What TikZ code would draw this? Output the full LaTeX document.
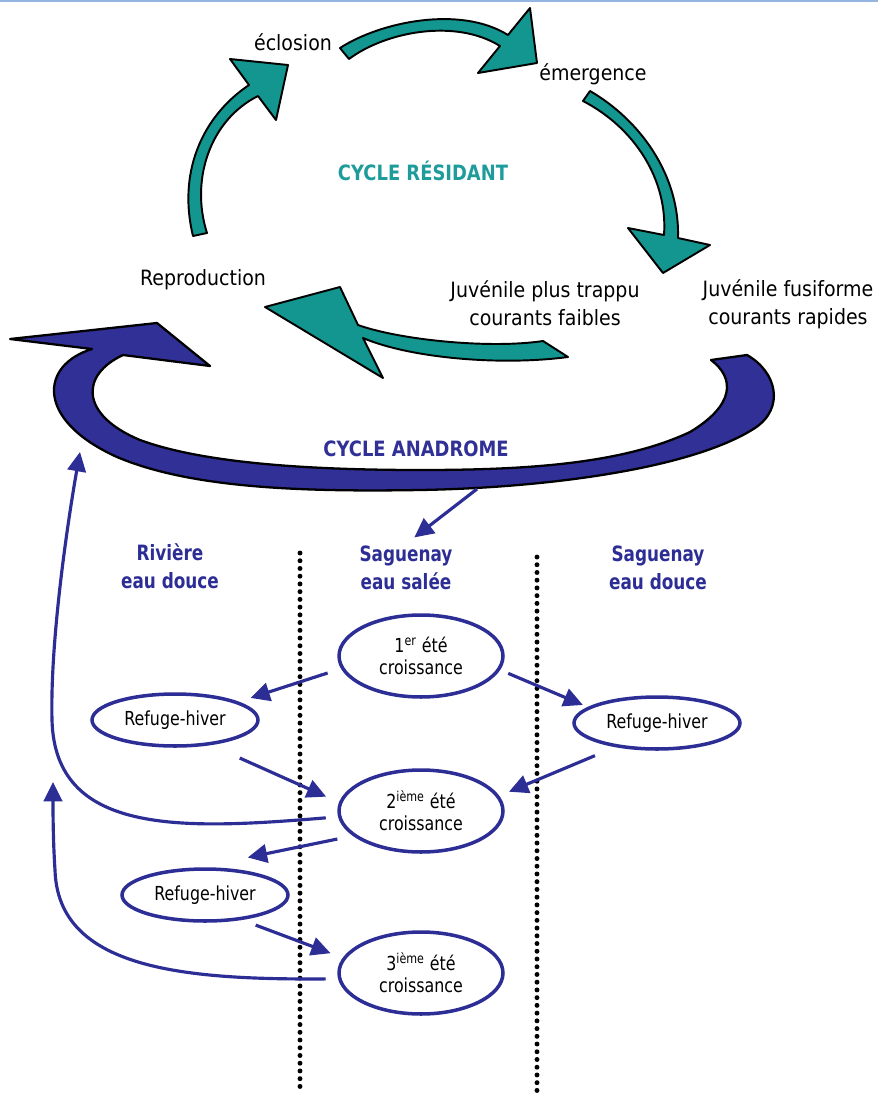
\documentclass[tikz,border=0pt]{standalone}
\usepackage{fontspec}
\setmainfont{DejaVu Sans}
\newfontfamily\etiqfont[FakeStretch=0.9]{DejaVu Sans}
\newfontfamily\ovalefont[FakeStretch=0.82]{DejaVu Sans}
\newfontfamily\titrefont[FakeStretch=0.8]{DejaVu Sans}
\newfontfamily\cyclefont[FakeStretch=0.85]{DejaVu Sans}
\usepackage{tikz}
\usetikzlibrary{shapes.geometric,arrows.meta}

\definecolor{sarcelle}{RGB}{18,150,143}
\definecolor{sarcelletxt}{RGB}{30,155,155}
\definecolor{marine}{RGB}{48,48,150}
\definecolor{bleu}{RGB}{45,45,150}
\definecolor{bordure}{RGB}{150,180,225}

\begin{document}
\begin{tikzpicture}[x=0.02cm,y=-0.02cm,
    etiq/.style={font=\etiqfont\fontsize{12}{16}\selectfont, align=center, inner sep=1pt},
    titre/.style={font=\titrefont\bfseries\fontsize{12}{16}\selectfont, text=bleu, align=center, inner sep=1pt},
    cyclelabel/.style={font=\cyclefont\bfseries\fontsize{12}{14}\selectfont, inner sep=1pt},
    ovale/.style={ellipse, draw=bleu, line width=2pt, inner sep=0pt, align=center, font=\ovalefont\fontsize{11}{12.5}\selectfont},
    ete/.style={ovale, minimum width=3.28cm, minimum height=1.64cm},
    refuge/.style={ovale, minimum width=3.32cm, minimum height=1.04cm},
    fleche/.style={fill=sarcelle, draw=black, line width=1.1pt, line join=round},
    anadrome/.style={fill=marine, draw=black, line width=1.3pt, line join=round},
    flux/.style={draw=bleu, line width=1.8pt, -{Triangle[length=11pt,width=10.5pt]}},
    pointille/.style={line width=2.8pt, dash pattern=on 0pt off 4.4pt, line cap=round}]
    \useasboundingbox (0,0) rectangle (878,1093);
    \draw[bordure, line width=1.2pt] (0,1) -- (878,1);

    % cycle residant
    \draw[fleche] (193,236) .. controls (178,175) and (200,118) .. (249,85) -- (230,59) -- (288,65) -- (276,120) -- (258,96) .. controls (210,120) and (190,180) .. (207,233) -- cycle;
    \draw[fleche] (340,48) .. controls (380,22) and (460,5) .. (508,35) -- (530,8) -- (537,63) -- (478,73) -- (500,46) .. controls (455,18) and (385,32) .. (349,59) -- cycle;
    \draw[fleche] (590,91) .. controls (640,120) and (680,175) .. (678,238) -- (710,245) -- (663,273) -- (628,228) -- (664,235) .. controls (668,180) and (635,128) .. (583,101) -- cycle;
    \draw[fleche] (568,357) .. controls (500,366) and (410,358) .. (363,338) -- (383,378) -- (265,307) -- (340,287) -- (358,325) .. controls (400,340) and (490,349) .. (543,341) -- cycle;

    % cycle anadrome
    \draw[anadrome] (92,349) .. controls (40,365) and (35,420) .. (117,457) .. controls (190,488) and (300,492) .. (420,490) .. controls (540,488) and (690,470) .. (755,428) .. controls (785,408) and (777,372) .. (747,355) -- (711,360) .. controls (735,378) and (735,405) .. (690,432) .. controls (620,465) and (520,470) .. (420,470) .. controls (300,470) and (200,462) .. (140,440) .. controls (80,415) and (80,375) .. (123,355) -- (210,366) -- (157,323) -- (10,339) -- cycle;

    \node[etiq, anchor=base] (eclosion) at (293,50) {éclosion};
    \node[etiq, anchor=base] (emergence) at (593,80) {émergence};
    \node[etiq, anchor=base] (repro) at (203,285) {Reproduction};
    \node[etiq] (trappu) at (545,303) {Juvénile plus trappu\\courants faibles};
    \node[etiq] (fusi) at (788,304) {Juvénile fusiforme\\courants rapides};
    \node[cyclelabel, text=sarcelletxt, anchor=base] (resid) at (423,180) {CYCLE RÉSIDANT};
    \node[cyclelabel, text=marine, anchor=base] (anadr) at (416,456) {CYCLE ANADROME};

    % milieux
    \node[titre] (riviere) at (170,566) {Rivière\\eau douce};
    \node[titre] (salee) at (406,568) {Saguenay\\eau salée};
    \node[titre] (douce) at (658,568) {Saguenay\\eau douce};
    \draw[pointille] (300,553) -- (300,1087);
    \draw[pointille] (537,557) -- (537,1091);

    \node[ete] (ete1) at (421,656) {1\textsuperscript{er} été\\croissance};
    \node[refuge] (hivG) at (175,720) {Refuge-hiver};
    \node[refuge] (hivD) at (657,723) {Refuge-hiver};
    \node[ete] (ete2) at (421,811) {2\textsuperscript{ième} été\\croissance};
    \node[refuge] (hivG2) at (205,895) {Refuge-hiver};
    \node[ete] (ete3) at (421,973) {3\textsuperscript{ième} été\\croissance};

    \coordinate (anaBas) at (477,489);
    \coordinate (retour1) at (80,452);
    \coordinate (retour2) at (53,782);

    \draw[flux, shorten >=6pt] (anaBas) -- (salee.north);
    \draw[flux, shorten <=8pt, shorten >=7pt] (ete1.189) -- (hivG.16);
    \draw[flux, shorten <=5pt, shorten >=3pt] (ete1.350) -- (hivD.167);
    \draw[flux, shorten <=18pt, shorten >=8pt] (hivG.325) -- (ete2.174);
    \draw[flux, shorten <=12.5pt, shorten >=6pt] (hivD.210) -- (ete2.11);
    \draw[flux, shorten <=9pt, shorten >=27.7pt] (ete2.200) -- (hivG2.100);
    \draw[flux, shorten <=8.3pt, shorten >=7.4pt] (hivG2.326) -- (ete3.169);

    %retours
    \draw[flux, shorten <=7pt] (ete2.184) .. controls (180,830) and (55,835) .. (52,720) .. controls (50,640) and (68,520) .. (retour1);
    \draw[flux, shorten <=7pt] (ete3.184) .. controls (180,980) and (58,968) .. (55,870) .. controls (53,840) and (53,810) .. (retour2);
\end{tikzpicture}
\end{document}
